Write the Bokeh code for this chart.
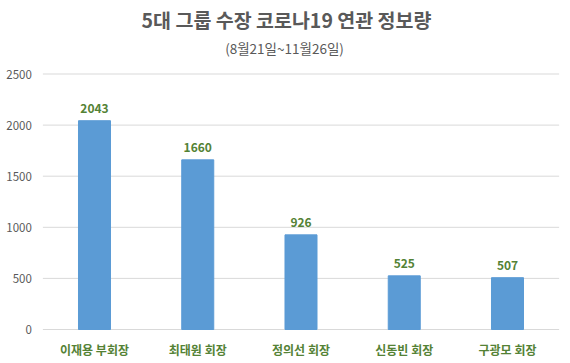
from bokeh.plotting import figure
from bokeh.models import ColumnDataSource, Range1d
from bokeh.core.properties import value
from bokeh.embed import file_html
from bokeh.resources import INLINE

categories = ["이재용 부회장", "최태원 회장", "정의선 회장", "신동빈 회장", "구광모 회장"]
counts = [2043, 1660, 926, 525, 507]
y_ticks = [0, 500, 1000, 1500, 2000, 2500]
title_text = "5대 그룹 수장 코로나19 연관 정보량"
subtitle_text = "(8월21일~11월26일)"

FONT = "Noto Sans CJK KR"
GREEN = "#548235"
GRAY = "#595959"

W, H = 570, 363
BASE_PX = 329          # pixel row (from top) of value 0
TOP_PX = 73.5          # pixel row of the top tick
FIRST_PX = 94          # pixel column of the first category centre
STEP_PX = 103.25       # pixels per category

n = len(categories)
xs = list(range(1, n + 1))
ppu = (BASE_PX - TOP_PX) / y_ticks[-1]
y_start = -(H - BASE_PX) / ppu
y_end = BASE_PX / ppu
x_start = 1 - FIRST_PX / STEP_PX
x_end = 1 + (W - FIRST_PX) / STEP_PX

source = ColumnDataSource(data=dict(x=xs, cat=categories, v=counts,
                                    lbl=[str(c) for c in counts],
                                    base=[0] * n))
grid = ColumnDataSource(data=dict(x0=[0.5] * len(y_ticks),
                                  x1=[n + 0.5] * len(y_ticks),
                                  y=y_ticks,
                                  lbl=[str(t) for t in y_ticks]))

p = figure(width=W, height=H, output_backend="svg", toolbar_location=None,
           x_range=Range1d(x_start, x_end), y_range=Range1d(y_start, y_end),
           x_axis_location=None, y_axis_location=None,
           min_border=0)
p.outline_line_color = None
p.xgrid.visible = False
p.ygrid.visible = False
p.background_fill_color = "white"
p.border_fill_color = "white"

# gridlines
p.segment(x0="x0", x1="x1", y0="y", y1="y", source=grid,
          line_color="#D9D9D9", line_width=1)
# y tick labels
p.text(x="x0", y="y", text="lbl", source=grid, x_offset=-11,
       text_align="right", text_baseline="middle",
       text_font=value(FONT), text_font_size="11.5px", text_color=GRAY)

# bars
p.vbar(x="x", top="v", bottom="base", width=0.31, source=source, color="#5B9BD5")
# value labels
p.text(x="x", y="v", text="lbl", source=source, y_offset=-12.5,
       text_align="center", text_baseline="middle",
       text_font=value(FONT), text_font_size="12px", text_font_style="bold",
       text_color=GREEN)
# category labels
p.text(x="x", y="base", text="cat", source=source, y_offset=20,
       text_align="center", text_baseline="middle",
       text_font=value(FONT), text_font_size="12px", text_font_style="bold",
       text_color=GREEN)

# titles
title_x = 1 + (286 - FIRST_PX) / STEP_PX
sub_x = 1 + (284 - FIRST_PX) / STEP_PX
p.text(x=[title_x], y=[(BASE_PX - 19) / ppu], text=[title_text],
       text_align="center", text_baseline="middle",
       text_font=value(FONT), text_font_size="19.5px", text_font_style="bold",
       text_color=GRAY)
p.text(x=[sub_x], y=[(BASE_PX - 47.5) / ppu], text=[subtitle_text],
       text_align="center", text_baseline="middle",
       text_font=value(FONT), text_font_size="13.5px", text_color=GRAY)

open("out.html", "w").write(file_html(p, INLINE))
